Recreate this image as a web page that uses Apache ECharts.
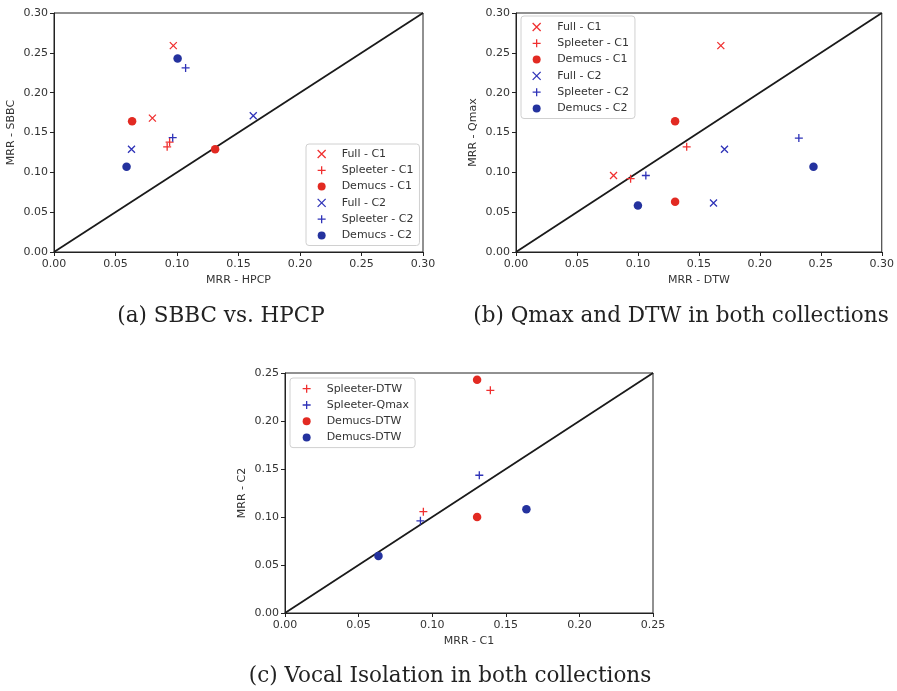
<!DOCTYPE html>
<html>
<head>
<meta charset="utf-8">
<style>
  html, body { margin: 0; padding: 0; background: #fff; }
  #app { width: 897px; height: 691px; }
</style>
<script src="https://cdn.jsdelivr.net/npm/echarts@6/dist/echarts.min.js"></script>
</head>
<body>
<div id="app"></div>
<script>
// (a) SBBC vs. HPCP  -> [MRR - HPCP, MRR - SBBC]
const aFullC1 = [[0.097, 0.259], [0.080, 0.168]];
const aSpleeterC1 = [[0.092, 0.132], [0.094, 0.138]];
const aDemucsC1 = [[0.0635, 0.164], [0.131, 0.129]];
const aFullC2 = [[0.063, 0.129], [0.162, 0.171]];
const aSpleeterC2 = [[0.0965, 0.1435], [0.107, 0.231]];
const aDemucsC2 = [[0.1005, 0.243], [0.059, 0.107]];

// (b) Qmax and DTW -> [MRR - DTW, MRR - Qmax]
const bFullC1 = [[0.168, 0.259], [0.080, 0.096]];
const bSpleeterC1 = [[0.094, 0.092], [0.140, 0.132]];
const bDemucsC1 = [[0.1305, 0.164], [0.1305, 0.063]];
const bFullC2 = [[0.171, 0.129], [0.162, 0.0615]];
const bSpleeterC2 = [[0.1065, 0.096], [0.232, 0.143]];
const bDemucsC2 = [[0.100, 0.0585], [0.244, 0.107]];

// (c) Vocal isolation -> [MRR - C1, MRR - C2]
const cSpleeterDTW = [[0.1395, 0.232], [0.094, 0.1055]];
const cSpleeterQmax = [[0.132, 0.1435], [0.092, 0.096]];
const cDemucsDTWred = [[0.1305, 0.243], [0.1305, 0.100]];
const cDemucsDTWblue = [[0.0635, 0.0595], [0.164, 0.108]];

const diagAB = [[0, 0], [0.3, 0.3]];
const diagC = [[0, 0], [0.25, 0.25]];

const legendAB = ['Full - C1', 'Spleeter - C1', 'Demucs - C1', 'Full - C2', 'Spleeter - C2', 'Demucs - C2'];
// second "Demucs-DTW" carries a trailing space so both entries exist; the formatter trims it
const legendC = ['Spleeter-DTW', 'Spleeter-Qmax', 'Demucs-DTW', 'Demucs-DTW '];

const captions = ['(a) SBBC vs. HPCP', '(b) Qmax and DTW in both collections', '(c) Vocal Isolation in both collections'];

const RED = '#f03030';
const RED_DOT = '#e22a22';
const BLUE = '#2f33b8';
const BLUE_DOT = '#24329e';

const X_PATH = 'path://M0,0L10,10M10,0L0,10';
const PLUS_PATH = 'path://M5,0L5,10M0,5L10,5';

const axisFont = { fontFamily: 'DejaVu Sans', fontSize: 11, color: '#333' };

const markerSeries = (name, data, idx, kind, color) => {
  const s = {
    name, type: 'scatter', data, xAxisIndex: idx, yAxisIndex: idx, z: 3
  };
  if (kind === 'dot') {
    s.symbol = 'circle';
    s.symbolSize = 8.5;
    s.itemStyle = { color, opacity: 1 };
  } else {
    s.symbol = kind === 'x' ? X_PATH : PLUS_PATH;
    s.symbolSize = kind === 'x' ? 7 : 8;
    s.itemStyle = { color, borderColor: color, borderWidth: 1.3, opacity: 1 };
  }
  return s;
};

const diagSeries = (data, idx) => ({
  type: 'line', data, xAxisIndex: idx, yAxisIndex: idx,
  symbol: 'none', silent: true, z: 2,
  lineStyle: { color: '#1a1a1a', width: 1.8 }
});

const xAxis = (idx, name, max) => ({
  type: 'value', gridIndex: idx, min: 0, max, interval: 0.05,
  name, nameLocation: 'middle', nameGap: 23,
  nameTextStyle: axisFont,
  axisLine: { lineStyle: { color: '#222' } },
  axisTick: { length: 4, lineStyle: { color: '#222' } },
  axisLabel: { ...axisFont, margin: 7, formatter: v => v.toFixed(2) },
  splitLine: { show: false }
});

const yAxis = (idx, name, max) => ({
  type: 'value', gridIndex: idx, min: 0, max, interval: 0.05,
  name, nameLocation: 'middle', nameGap: 37,
  nameTextStyle: axisFont,
  axisLine: { lineStyle: { color: '#222' } },
  axisTick: { length: 4, lineStyle: { color: '#222' } },
  axisLabel: { ...axisFont, margin: 6, formatter: v => v.toFixed(2) },
  splitLine: { show: false }
});

const legend = (data, left, top, padding, textPad) => ({
  data, left, top, orient: 'vertical', padding,
  itemWidth: 8, itemHeight: 8, itemGap: 5.3,
  borderColor: '#d0d0d0', borderWidth: 1, borderRadius: 3,
  backgroundColor: 'rgba(255,255,255,0.85)',
  selectedMode: false,
  formatter: n => n.trim(),
  itemStyle: { borderWidth: 1.3 },
  textStyle: { fontFamily: 'DejaVu Sans', fontSize: 11, color: '#333', padding: [0, 0, 0, textPad] }
});

const caption = (text, x, y) => ({
  type: 'text', x, y,
  style: { text, textAlign: 'center', textVerticalAlign: 'middle', font: '21.5px "DejaVu Serif"', fill: '#222' }
});

const option = {
  animation: false,
  backgroundColor: '#fff',
  grid: [
    { left: 54, top: 13, width: 369, height: 239, show: true, borderColor: '#222', borderWidth: 1, backgroundColor: 'transparent' },
    { left: 516, top: 13, width: 368, height: 239, show: true, borderColor: '#222', borderWidth: 1, backgroundColor: 'transparent' },
    { left: 285, top: 373, width: 368, height: 240, show: true, borderColor: '#222', borderWidth: 1, backgroundColor: 'transparent' }
  ],
  xAxis: [xAxis(0, 'MRR - HPCP', 0.3), xAxis(1, 'MRR - DTW', 0.3), xAxis(2, 'MRR - C1', 0.25)],
  yAxis: [yAxis(0, 'MRR - SBBC', 0.3), yAxis(1, 'MRR - Qmax', 0.3), yAxis(2, 'MRR - C2', 0.25)],
  legend: [
    legend(legendAB, 306, 144, [4.5, 6, 4.5, 11], 11),
    legend(legendAB, 521, 16, [5.5, 6, 4.5, 11], 11.5),
    legend(legendC, 290, 378, [5.2, 6, 4.5, 12], 11)
  ],
  series: [
    diagSeries(diagAB, 0),
    markerSeries('Full - C1', aFullC1, 0, 'x', RED),
    markerSeries('Spleeter - C1', aSpleeterC1, 0, '+', RED),
    markerSeries('Demucs - C1', aDemucsC1, 0, 'dot', RED_DOT),
    markerSeries('Full - C2', aFullC2, 0, 'x', BLUE),
    markerSeries('Spleeter - C2', aSpleeterC2, 0, '+', BLUE),
    markerSeries('Demucs - C2', aDemucsC2, 0, 'dot', BLUE_DOT),

    diagSeries(diagAB, 1),
    markerSeries('Full - C1', bFullC1, 1, 'x', RED),
    markerSeries('Spleeter - C1', bSpleeterC1, 1, '+', RED),
    markerSeries('Demucs - C1', bDemucsC1, 1, 'dot', RED_DOT),
    markerSeries('Full - C2', bFullC2, 1, 'x', BLUE),
    markerSeries('Spleeter - C2', bSpleeterC2, 1, '+', BLUE),
    markerSeries('Demucs - C2', bDemucsC2, 1, 'dot', BLUE_DOT),

    diagSeries(diagC, 2),
    markerSeries('Spleeter-DTW', cSpleeterDTW, 2, '+', RED),
    markerSeries('Spleeter-Qmax', cSpleeterQmax, 2, '+', BLUE),
    markerSeries('Demucs-DTW', cDemucsDTWred, 2, 'dot', RED_DOT),
    markerSeries('Demucs-DTW ', cDemucsDTWblue, 2, 'dot', BLUE_DOT)
  ],
  graphic: [
    caption(captions[0], 221, 316),
    caption(captions[1], 681, 316),
    caption(captions[2], 450, 676)
  ]
};

const chart = echarts.init(document.getElementById('app'), null, { renderer: 'canvas' });
chart.setOption(option);
</script>
</body>
</html>
